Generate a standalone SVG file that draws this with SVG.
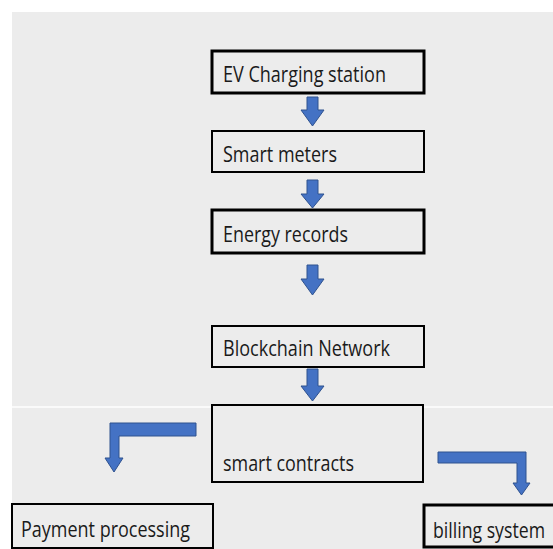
<svg xmlns="http://www.w3.org/2000/svg" width="553" height="549" viewBox="0 0 553 549">
<style>
.box{fill:#ececec;stroke:#000;stroke-width:2}
.thick{stroke-width:3}
.lbl{font-family:"Open Sans","Liberation Sans",sans-serif;font-size:21px;fill:#1a1a1a}
.arr{fill:#4472c4;stroke:#2f528f;stroke-width:1}
</style>
<rect x="0" y="0" width="553" height="549" fill="#ffffff"/>
<rect x="12" y="12" width="541" height="537" fill="#ececec"/>
<line x1="12" y1="407" x2="553" y2="407" stroke="#ffffff" stroke-width="1.5"/>
<g id="connectors">
<path class="arr" d="M307,97 H318 V110 H324 L312.5,126 L301,110 H307 Z"/>
<path class="arr" d="M307,180 H318 V194 H324 L312.5,208 L301,194 H307 Z"/>
<path class="arr" d="M307,265 H318 V279 H324 L312.5,295 L301,279 H307 Z"/>
<path class="arr" d="M307,369 H318 V386 H324 L312.5,401 L301,386 H307 Z"/>
<path class="arr" d="M196,423 V436 H119 V458 H123 L114,472 L105,458 H110 V423 Z"/>
<path class="arr" d="M438,452 H526 V483 H530 L521.5,495 L513,483 H517 V463 H438 Z"/>
</g>
<g id="ev">
<rect class="box thick" x="212" y="51" width="212" height="42"/>
<text class="lbl" x="223" y="82" textLength="163" lengthAdjust="spacingAndGlyphs">EV Charging station</text>
</g>
<g id="meters">
<rect class="box" x="212" y="131" width="212" height="41"/>
<text class="lbl" x="223" y="162" textLength="114" lengthAdjust="spacingAndGlyphs">Smart meters</text>
</g>
<g id="records">
<rect class="box thick" x="212" y="210" width="212" height="43"/>
<text class="lbl" x="223" y="242" textLength="125" lengthAdjust="spacingAndGlyphs">Energy records</text>
</g>
<g id="blockchain">
<rect class="box" x="212" y="326" width="212" height="41"/>
<text class="lbl" x="223" y="356" textLength="167" lengthAdjust="spacingAndGlyphs">Blockchain Network</text>
</g>
<g id="contracts">
<rect class="box" x="212" y="405" width="211" height="77"/>
<text class="lbl" x="223" y="471" textLength="131" lengthAdjust="spacingAndGlyphs">smart contracts</text>
</g>
<g id="payment">
<rect class="box" x="12" y="504" width="201" height="44"/>
<text class="lbl" x="21" y="537" textLength="169" lengthAdjust="spacingAndGlyphs">Payment processing</text>
</g>
<g id="billing">
<rect class="box thick" x="424" y="505" width="140" height="42"/>
<text class="lbl" x="433" y="538" textLength="112" lengthAdjust="spacingAndGlyphs">billing system</text>
</g>
</svg>
